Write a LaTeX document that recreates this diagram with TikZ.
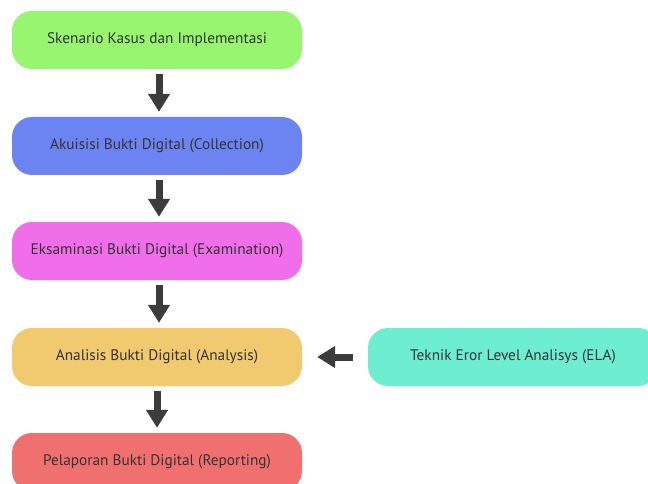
\documentclass[tikz,border=0pt]{standalone}
\usepackage{fontspec}
\setmainfont{PT Sans}
\usetikzlibrary{arrows.meta}
\definecolor{cgreen}{HTML}{98F56F}
\definecolor{cblue}{HTML}{6C84F2}
\definecolor{cmag}{HTML}{F06EEA}
\definecolor{corange}{HTML}{F1C96E}
\definecolor{ccyan}{HTML}{6EEED0}
\definecolor{cred}{HTML}{F07070}
\definecolor{ctext}{HTML}{333333}
\definecolor{carrow}{HTML}{3C3C3C}
\tikzset{
  stage/.style={rounded corners=20pt, minimum width=290pt, minimum height=58pt, inner sep=0pt, text=ctext, font=\fontsize{15.3pt}{17pt}\selectfont},
  blockarrow/.style={carrow, line width=7pt, -{Triangle[width=21pt,length=18pt]}, shorten <=5pt, shorten >=5pt},
}
\begin{document}
\begin{tikzpicture}[x=1pt,y=1pt]
\useasboundingbox (0,0) rectangle (648,-484);
\clip (0,0) rectangle (648,-484);
\node[stage, fill=cgreen] (s1) at (157,-40) {Skenario Kasus dan Implementasi};
\node[stage, fill=cblue] (s2) at (157,-146) {Akuisisi Bukti Digital (Collection)};
\node[stage, fill=cmag] (s3) at (157,-251) {Eksaminasi Bukti Digital (Examination)};
\node[stage, fill=corange] (s4) at (157,-357) {Analisis Bukti Digital (Analysis)};
\node[stage, fill=cred] (s5) at (157,-462) {Pelaporan Bukti Digital (Reporting)};
\node[stage, fill=ccyan] (e) at (513,-357) {Teknik Eror Level Analisys (ELA)};
\draw[blockarrow] ([xshift=2pt]s1.south) -- ([xshift=2pt]s2.north);
\draw[blockarrow] ([xshift=2pt]s2.south) -- ([xshift=2pt]s3.north);
\draw[blockarrow] ([xshift=2pt]s3.south) -- ([xshift=2pt]s4.north);
\draw[blockarrow] (s4.south) -- (s5.north);
\draw[blockarrow, shorten <=15pt, shorten >=15pt] (e.west) -- (s4.east);
\end{tikzpicture}
\end{document}
